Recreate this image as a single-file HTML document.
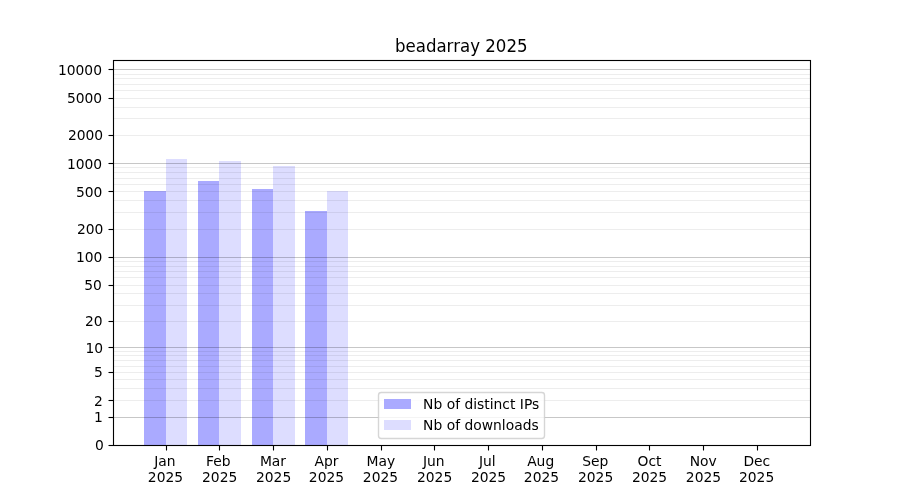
<!DOCTYPE html>
<html><head><meta charset="utf-8"><title>beadarray 2025</title><style>html,body{margin:0;padding:0;background:#fff;}body{width:900px;height:500px;overflow:hidden;}svg{display:block;will-change:transform;}text{font-family:"DejaVu Sans","Liberation Sans",sans-serif;fill:#000;}.t{font-size:14.000px;}.tt{font-size:17.000px;}</style></head><body>
<svg width="900" height="500" viewBox="0 0 900 500">
<rect x="0" y="0" width="900" height="500" fill="#ffffff"/>
<g shape-rendering="crispEdges">
<rect x="144" y="191" width="22" height="254" fill="#aaaaff"/>
<rect x="166" y="159" width="21" height="286" fill="#ddddff"/>
<rect x="198" y="181" width="21" height="264" fill="#aaaaff"/>
<rect x="219" y="161" width="22" height="284" fill="#ddddff"/>
<rect x="252" y="189" width="21" height="256" fill="#aaaaff"/>
<rect x="273" y="166" width="22" height="279" fill="#ddddff"/>
<rect x="305" y="211" width="22" height="234" fill="#aaaaff"/>
<rect x="327" y="191" width="21" height="254" fill="#ddddff"/>
</g>
<g stroke="#000" stroke-width="1.1111">
<line x1="113" x2="810" y1="417.5" y2="417.5" stroke-opacity="0.22"/>
<line x1="113" x2="810" y1="400.5" y2="400.5" stroke-opacity="0.07"/>
<line x1="113" x2="810" y1="388.5" y2="388.5" stroke-opacity="0.07"/>
<line x1="113" x2="810" y1="379.5" y2="379.5" stroke-opacity="0.07"/>
<line x1="113" x2="810" y1="372.5" y2="372.5" stroke-opacity="0.07"/>
<line x1="113" x2="810" y1="366.5" y2="366.5" stroke-opacity="0.07"/>
<line x1="113" x2="810" y1="360.5" y2="360.5" stroke-opacity="0.07"/>
<line x1="113" x2="810" y1="355.5" y2="355.5" stroke-opacity="0.07"/>
<line x1="113" x2="810" y1="351.5" y2="351.5" stroke-opacity="0.07"/>
<line x1="113" x2="810" y1="347.5" y2="347.5" stroke-opacity="0.22"/>
<line x1="113" x2="810" y1="321.5" y2="321.5" stroke-opacity="0.07"/>
<line x1="113" x2="810" y1="305.5" y2="305.5" stroke-opacity="0.07"/>
<line x1="113" x2="810" y1="293.5" y2="293.5" stroke-opacity="0.07"/>
<line x1="113" x2="810" y1="285.5" y2="285.5" stroke-opacity="0.07"/>
<line x1="113" x2="810" y1="277.5" y2="277.5" stroke-opacity="0.07"/>
<line x1="113" x2="810" y1="271.5" y2="271.5" stroke-opacity="0.07"/>
<line x1="113" x2="810" y1="266.5" y2="266.5" stroke-opacity="0.07"/>
<line x1="113" x2="810" y1="261.5" y2="261.5" stroke-opacity="0.07"/>
<line x1="113" x2="810" y1="257.5" y2="257.5" stroke-opacity="0.22"/>
<line x1="113" x2="810" y1="229.5" y2="229.5" stroke-opacity="0.07"/>
<line x1="113" x2="810" y1="212.5" y2="212.5" stroke-opacity="0.07"/>
<line x1="113" x2="810" y1="200.5" y2="200.5" stroke-opacity="0.07"/>
<line x1="113" x2="810" y1="191.5" y2="191.5" stroke-opacity="0.07"/>
<line x1="113" x2="810" y1="184.5" y2="184.5" stroke-opacity="0.07"/>
<line x1="113" x2="810" y1="178.5" y2="178.5" stroke-opacity="0.07"/>
<line x1="113" x2="810" y1="172.5" y2="172.5" stroke-opacity="0.07"/>
<line x1="113" x2="810" y1="167.5" y2="167.5" stroke-opacity="0.07"/>
<line x1="113" x2="810" y1="163.5" y2="163.5" stroke-opacity="0.22"/>
<line x1="113" x2="810" y1="135.5" y2="135.5" stroke-opacity="0.07"/>
<line x1="113" x2="810" y1="118.5" y2="118.5" stroke-opacity="0.07"/>
<line x1="113" x2="810" y1="107.5" y2="107.5" stroke-opacity="0.07"/>
<line x1="113" x2="810" y1="98.5" y2="98.5" stroke-opacity="0.07"/>
<line x1="113" x2="810" y1="90.5" y2="90.5" stroke-opacity="0.07"/>
<line x1="113" x2="810" y1="84.5" y2="84.5" stroke-opacity="0.07"/>
<line x1="113" x2="810" y1="78.5" y2="78.5" stroke-opacity="0.07"/>
<line x1="113" x2="810" y1="74.5" y2="74.5" stroke-opacity="0.07"/>
<line x1="113" x2="810" y1="69.5" y2="69.5" stroke-opacity="0.22"/>
</g>
<rect x="113.5" y="60.5" width="697" height="385" fill="none" stroke="#000" stroke-width="1.1111"/>
<g stroke="#000" stroke-width="1.1111">
<line x1="108.5" x2="113" y1="445.5" y2="445.5"/>
<line x1="108.5" x2="113" y1="417.5" y2="417.5"/>
<line x1="108.5" x2="113" y1="400.5" y2="400.5"/>
<line x1="108.5" x2="113" y1="372.5" y2="372.5"/>
<line x1="108.5" x2="113" y1="347.5" y2="347.5"/>
<line x1="108.5" x2="113" y1="321.5" y2="321.5"/>
<line x1="108.5" x2="113" y1="285.5" y2="285.5"/>
<line x1="108.5" x2="113" y1="257.5" y2="257.5"/>
<line x1="108.5" x2="113" y1="229.5" y2="229.5"/>
<line x1="108.5" x2="113" y1="191.5" y2="191.5"/>
<line x1="108.5" x2="113" y1="163.5" y2="163.5"/>
<line x1="108.5" x2="113" y1="135.5" y2="135.5"/>
<line x1="108.5" x2="113" y1="98.5" y2="98.5"/>
<line x1="108.5" x2="113" y1="69.5" y2="69.5"/>
<line x1="166.5" x2="166.5" y1="445" y2="450.5"/>
<line x1="219.5" x2="219.5" y1="445" y2="450.5"/>
<line x1="273.5" x2="273.5" y1="445" y2="450.5"/>
<line x1="327.5" x2="327.5" y1="445" y2="450.5"/>
<line x1="381.5" x2="381.5" y1="445" y2="450.5"/>
<line x1="434.5" x2="434.5" y1="445" y2="450.5"/>
<line x1="488.5" x2="488.5" y1="445" y2="450.5"/>
<line x1="542.5" x2="542.5" y1="445" y2="450.5"/>
<line x1="596.5" x2="596.5" y1="445" y2="450.5"/>
<line x1="649.5" x2="649.5" y1="445" y2="450.5"/>
<line x1="703.5" x2="703.5" y1="445" y2="450.5"/>
<line x1="757.5" x2="757.5" y1="445" y2="450.5"/>
</g>
<text class="t" text-anchor="end" transform="translate(103.778 449.677) scale(0.99107 1)">0</text>
<text class="t" text-anchor="end" transform="translate(102.778 421.599) scale(0.99107 1)">1</text>
<text class="t" text-anchor="end" transform="translate(102.778 405.657) scale(0.99107 1)">2</text>
<text class="t" text-anchor="end" transform="translate(102.778 376.578) scale(0.99107 1)">5</text>
<text class="t" text-anchor="end" transform="translate(103.178 352.650) scale(0.99107 1)">10</text>
<text class="t" text-anchor="end" transform="translate(102.578 325.669) scale(0.99107 1)">20</text>
<text class="t" text-anchor="end" transform="translate(101.778 289.669) scale(0.99107 1)">50</text>
<text class="t" text-anchor="end" transform="translate(102.378 261.593) scale(0.99107 1)">100</text>
<text class="t" text-anchor="end" transform="translate(103.378 233.517) scale(0.99107 1)">200</text>
<text class="t" text-anchor="end" transform="translate(102.378 196.657) scale(0.99107 1)">500</text>
<text class="t" text-anchor="end" transform="translate(102.178 168.619) scale(0.99107 1)">1000</text>
<text class="t" text-anchor="end" transform="translate(103.178 139.561) scale(0.99107 1)">2000</text>
<text class="t" text-anchor="end" transform="translate(102.178 102.591) scale(0.99107 1)">5000</text>
<text class="t" text-anchor="end" transform="translate(101.978 74.517) scale(0.99107 1)">10000</text>
<text class="t" text-anchor="middle" transform="translate(164.900 465.676) scale(0.99107 1)">Jan</text>
<text class="t" text-anchor="middle" transform="translate(165.500 481.628) scale(0.99107 1)">2025</text>
<text class="t" text-anchor="middle" transform="translate(218.237 465.676) scale(0.99107 1)">Feb</text>
<text class="t" text-anchor="middle" transform="translate(219.637 481.628) scale(0.99107 1)">2025</text>
<text class="t" text-anchor="middle" transform="translate(272.974 465.676) scale(0.99107 1)">Mar</text>
<text class="t" text-anchor="middle" transform="translate(273.574 481.628) scale(0.99107 1)">2025</text>
<text class="t" text-anchor="middle" transform="translate(326.511 465.676) scale(0.99107 1)">Apr</text>
<text class="t" text-anchor="middle" transform="translate(326.511 481.628) scale(0.99107 1)">2025</text>
<text class="t" text-anchor="middle" transform="translate(380.848 465.676) scale(0.99107 1)">May</text>
<text class="t" text-anchor="middle" transform="translate(380.448 481.628) scale(0.99107 1)">2025</text>
<text class="t" text-anchor="middle" transform="translate(433.785 465.676) scale(0.99107 1)">Jun</text>
<text class="t" text-anchor="middle" transform="translate(434.585 481.628) scale(0.99107 1)">2025</text>
<text class="t" text-anchor="middle" transform="translate(487.322 465.676) scale(0.99107 1)">Jul</text>
<text class="t" text-anchor="middle" transform="translate(488.522 481.628) scale(0.99107 1)">2025</text>
<text class="t" text-anchor="middle" transform="translate(540.659 465.676) scale(0.99107 1)">Aug</text>
<text class="t" text-anchor="middle" transform="translate(541.459 481.628) scale(0.99107 1)">2025</text>
<text class="t" text-anchor="middle" transform="translate(595.196 465.676) scale(0.99107 1)">Sep</text>
<text class="t" text-anchor="middle" transform="translate(595.596 481.628) scale(0.99107 1)">2025</text>
<text class="t" text-anchor="middle" transform="translate(649.533 465.676) scale(0.99107 1)">Oct</text>
<text class="t" text-anchor="middle" transform="translate(649.533 481.628) scale(0.99107 1)">2025</text>
<text class="t" text-anchor="middle" transform="translate(703.270 465.676) scale(0.99107 1)">Nov</text>
<text class="t" text-anchor="middle" transform="translate(703.470 481.628) scale(0.99107 1)">2025</text>
<text class="t" text-anchor="middle" transform="translate(756.807 465.676) scale(0.99107 1)">Dec</text>
<text class="t" text-anchor="middle" transform="translate(756.607 481.628) scale(0.99107 1)">2025</text>
<text class="tt" text-anchor="middle" transform="translate(461.250 51.667) scale(0.97794 1)">beadarray 2025</text>
<rect x="378.5" y="392.5" width="166" height="46" rx="2.778" ry="2.778" fill="#ffffff" fill-opacity="0.8" stroke="#cccccc" stroke-opacity="0.8" stroke-width="1.3889"/>
<g shape-rendering="crispEdges">
<rect x="384" y="399" width="27" height="10" fill="#aaaaff"/>
<rect x="384" y="420" width="27" height="10" fill="#ddddff"/>
</g>
<text class="t" transform="translate(423.095 408.625) scale(0.99107 1)">Nb of distinct IPs</text>
<text class="t" transform="translate(423.095 429.612) scale(0.99107 1)">Nb of downloads</text>
</svg>
</body></html>
